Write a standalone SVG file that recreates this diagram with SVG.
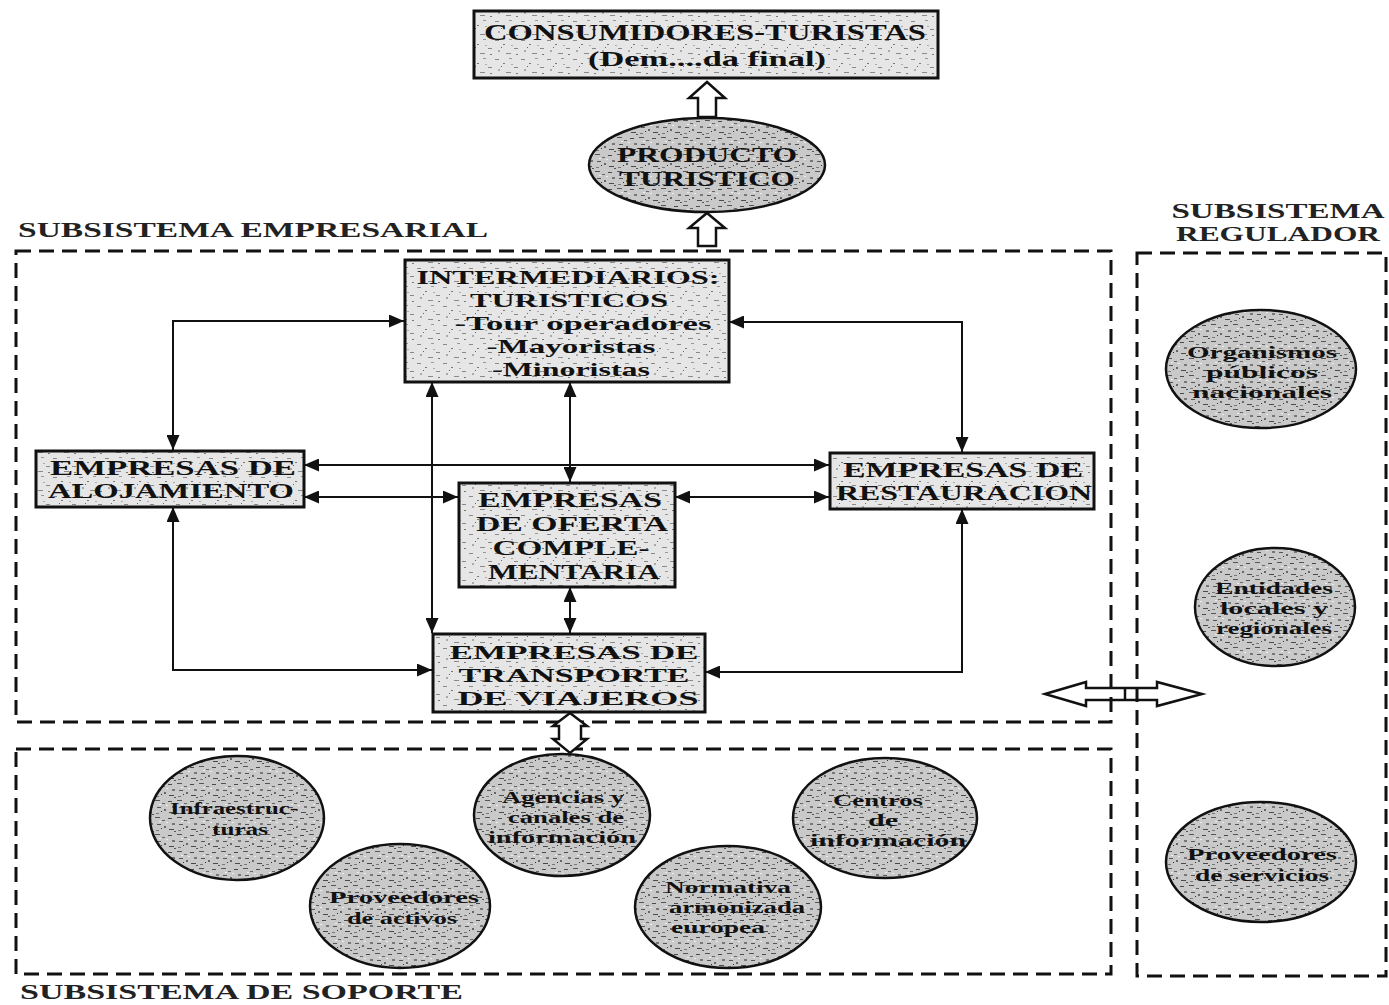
<svg xmlns="http://www.w3.org/2000/svg" width="1389" height="1005" viewBox="0 0 1389 1005">
<style>
  .box{stroke:#111;stroke-width:3;fill:url(#texL)}
  .ell{stroke:#111;stroke-width:2.5;fill:url(#texD)}
  .dash{fill:none;stroke:#111;stroke-width:3;stroke-dasharray:15 8}
  .t{font-family:"Liberation Serif","Times New Roman",serif;font-weight:bold;fill:#111;text-anchor:middle}
  .e{font-size:16px}
  .lbl{font-family:"Liberation Serif","Times New Roman",serif;font-weight:bold;fill:#222}
  .c{fill:none;stroke:#111;stroke-width:2;marker-start:url(#ah);marker-end:url(#ah)}
  .hollow{fill:#fff;stroke:#111;stroke-width:2.5;stroke-linejoin:miter}
</style>
<defs>
  <marker id="ah" markerUnits="userSpaceOnUse" markerWidth="15" markerHeight="13" viewBox="0 0 15 13" refX="15" refY="6.5" orient="auto-start-reverse">
    <path d="M0,0 L15,6.5 L0,13 Z" fill="#111"/>
  </marker>
  <pattern id="texL" width="26" height="19" patternUnits="userSpaceOnUse">
    <rect width="26" height="19" fill="#e6e6e6"/>
    <rect x="1" y="2" width="4" height="1" fill="#8a8a8a"/>
    <rect x="9" y="6" width="2" height="1" fill="#777"/>
    <rect x="15" y="1" width="3" height="1" fill="#999"/>
    <rect x="20" y="10" width="4" height="1" fill="#888"/>
    <rect x="4" y="12" width="2" height="2" fill="#aaa"/>
    <rect x="12" y="15" width="5" height="1" fill="#8a8a8a"/>
    <rect x="22" y="16" width="2" height="1" fill="#777"/>
    <rect x="7" y="9" width="1" height="1" fill="#666"/>
    <rect x="17" y="7" width="2" height="1" fill="#aaa"/>
  </pattern>
  <pattern id="texD" width="22" height="17" patternUnits="userSpaceOnUse">
    <rect width="22" height="17" fill="#c9c9c9"/>
    <rect x="1" y="1" width="5" height="1" fill="#555"/>
    <rect x="8" y="4" width="3" height="1" fill="#666"/>
    <rect x="14" y="2" width="4" height="1" fill="#4a4a4a"/>
    <rect x="18" y="7" width="3" height="2" fill="#777"/>
    <rect x="3" y="8" width="4" height="1" fill="#555"/>
    <rect x="10" y="10" width="2" height="2" fill="#666"/>
    <rect x="15" y="13" width="5" height="1" fill="#4a4a4a"/>
    <rect x="2" y="14" width="3" height="1" fill="#777"/>
    <rect x="7" y="12" width="1" height="1" fill="#333"/>
    <rect x="20" y="15" width="2" height="1" fill="#555"/>
    <rect x="12" y="6" width="2" height="1" fill="#eee"/>
    <rect x="5" y="5" width="2" height="1" fill="#eee"/>
  </pattern>
</defs>
<rect width="1389" height="1005" fill="#fff"/>

<!-- subsystem frames and labels -->
<g id="subsistema-empresarial">
  <rect class="dash" x="16" y="251" width="1095" height="471"/>
  <text class="lbl" x="18" y="237" font-size="22" textLength="470" lengthAdjust="spacingAndGlyphs">SUBSISTEMA EMPRESARIAL</text>
</g>
<g id="subsistema-regulador">
  <rect class="dash" x="1137" y="253" width="249" height="723"/>
  <text class="lbl" x="1278" y="218" font-size="20" text-anchor="middle" textLength="213" lengthAdjust="spacingAndGlyphs">SUBSISTEMA</text>
  <text class="lbl" x="1278" y="241" font-size="20" text-anchor="middle" textLength="204" lengthAdjust="spacingAndGlyphs">REGULADOR</text>
</g>
<g id="subsistema-soporte">
  <rect class="dash" x="16" y="749" width="1095" height="225"/>
  <text class="lbl" x="20" y="999" font-size="22" font-weight="normal" textLength="443" lengthAdjust="spacingAndGlyphs">SUBSISTEMA DE SOPORTE</text>
</g>

<!-- connectors -->
<g id="connectors">
  <path class="c" d="M173,450 L173,321 L404,321"/>
  <path class="c" d="M962,452 L962,322 L729,322"/>
  <path class="c" d="M570,382 L570,482" stroke-width="3"/>
  <path class="c" d="M432,382 L432,633"/>
  <path class="c" d="M570,587 L570,633" stroke-width="3"/>
  <path class="c" d="M304,465 L829,465"/>
  <path class="c" d="M304,497 L458,497"/>
  <path class="c" d="M675,497 L829,497"/>
  <path class="c" d="M173,507 L173,670 L432,670"/>
  <path class="c" d="M962,509 L962,672 L705,672"/>
  <path class="hollow" d="M707,82 L725,98 L716,98 L716,117 L698,117 L698,98 L689,98 Z"/>
  <path class="hollow" d="M707,213 L725,228 L716,228 L716,246 L698,246 L698,228 L689,228 Z"/>
  <path class="hollow" d="M570,713 L587,726 L581,726 L581,739 L587,739 L570,753 L553,739 L559,739 L559,726 L553,726 Z"/>
  <path class="hollow" style="fill:none" d="M1045,694 L1086,682 L1086,688 L1157,688 L1157,682 L1202,694 L1157,706 L1157,700 L1086,700 L1086,706 Z"/>
  <line x1="1125" y1="688" x2="1125" y2="700" stroke="#111" stroke-width="2.5"/>
</g>

<!-- nodes -->
<g id="consumidores">
  <rect class="box" x="474" y="11" width="464" height="67"/>
  <text class="t" x="705" y="40" font-size="23" textLength="442" lengthAdjust="spacingAndGlyphs">CONSUMIDORES-TURISTAS</text>
  <text class="t" x="707" y="66" font-size="21" textLength="238" lengthAdjust="spacingAndGlyphs">(Dem....da final)</text>
</g>
<g id="producto">
  <ellipse class="ell" cx="707" cy="165" rx="118" ry="47"/>
  <text class="t" x="707" y="162" font-size="20" textLength="180" lengthAdjust="spacingAndGlyphs">PRODUCTO</text>
  <text class="t" x="707" y="186" font-size="20" textLength="176" lengthAdjust="spacingAndGlyphs">TURISTICO</text>
</g>
<g id="intermediarios">
  <rect class="box" x="405" y="260" width="324" height="122"/>
  <text class="t" x="568" y="284" font-size="19" textLength="303" lengthAdjust="spacingAndGlyphs">INTERMEDIARIOS:</text>
  <text class="t" x="569" y="307" font-size="19" textLength="198" lengthAdjust="spacingAndGlyphs">TURISTICOS</text>
  <text class="t" x="583" y="330" font-size="19" textLength="257" lengthAdjust="spacingAndGlyphs">-Tour operadores</text>
  <text class="t" x="571" y="353" font-size="19" textLength="169" lengthAdjust="spacingAndGlyphs">-Mayoristas</text>
  <text class="t" x="571" y="376" font-size="19" textLength="158" lengthAdjust="spacingAndGlyphs">-Minoristas</text>
</g>
<g id="alojamiento">
  <rect class="box" x="36" y="451" width="268" height="56"/>
  <text class="t" x="173" y="475" font-size="20" textLength="246" lengthAdjust="spacingAndGlyphs">EMPRESAS DE</text>
  <text class="t" x="171" y="498" font-size="20" textLength="246" lengthAdjust="spacingAndGlyphs">ALOJAMIENTO</text>
</g>
<g id="restauracion">
  <rect class="box" x="830" y="453" width="264" height="56"/>
  <text class="t" x="963" y="477" font-size="20" textLength="240" lengthAdjust="spacingAndGlyphs">EMPRESAS DE</text>
  <text class="t" x="964" y="500" font-size="20" textLength="256" lengthAdjust="spacingAndGlyphs">RESTAURACION</text>
</g>
<g id="oferta-complementaria">
  <rect class="box" x="459" y="483" width="216" height="104"/>
  <text class="t" x="570" y="507" font-size="20" textLength="184" lengthAdjust="spacingAndGlyphs">EMPRESAS</text>
  <text class="t" x="572" y="531" font-size="20" textLength="192" lengthAdjust="spacingAndGlyphs">DE OFERTA</text>
  <text class="t" x="571" y="555" font-size="20" textLength="157" lengthAdjust="spacingAndGlyphs">COMPLE-</text>
  <text class="t" x="574" y="579" font-size="20" textLength="172" lengthAdjust="spacingAndGlyphs">MENTARIA</text>
</g>
<g id="transporte">
  <rect class="box" x="433" y="634" width="272" height="78"/>
  <text class="t" x="574" y="659" font-size="19" textLength="249" lengthAdjust="spacingAndGlyphs">EMPRESAS DE</text>
  <text class="t" x="574" y="682" font-size="19" textLength="231" lengthAdjust="spacingAndGlyphs">TRANSPORTE</text>
  <text class="t" x="578" y="705" font-size="19" textLength="241" lengthAdjust="spacingAndGlyphs">DE VIAJEROS</text>
</g>

<g id="organismos">
  <ellipse class="ell" cx="1261" cy="369" rx="95" ry="59"/>
  <text class="t e" x="1262" y="358" textLength="150" lengthAdjust="spacingAndGlyphs">Organismos</text>
  <text class="t e" x="1262" y="378" textLength="112" lengthAdjust="spacingAndGlyphs">públicos</text>
  <text class="t e" x="1262" y="398" textLength="140" lengthAdjust="spacingAndGlyphs">nacionales</text>
</g>
<g id="entidades">
  <ellipse class="ell" cx="1275" cy="607" rx="80" ry="59"/>
  <text class="t e" x="1274" y="594" textLength="118" lengthAdjust="spacingAndGlyphs">Entidades</text>
  <text class="t e" x="1274" y="614" textLength="108" lengthAdjust="spacingAndGlyphs">locales y</text>
  <text class="t e" x="1274" y="634" textLength="116" lengthAdjust="spacingAndGlyphs">regionales</text>
</g>
<g id="proveedores-servicios">
  <ellipse class="ell" cx="1261" cy="862" rx="95" ry="60"/>
  <text class="t e" x="1262" y="860" textLength="150" lengthAdjust="spacingAndGlyphs">Proveedores</text>
  <text class="t e" x="1262" y="881" textLength="134" lengthAdjust="spacingAndGlyphs">de servicios</text>
</g>

<g id="infraestructuras">
  <ellipse class="ell" cx="237" cy="818" rx="87" ry="62"/>
  <text class="t e" x="234" y="814" textLength="128" lengthAdjust="spacingAndGlyphs">Infraestruc-</text>
  <text class="t e" x="240" y="835" textLength="56" lengthAdjust="spacingAndGlyphs">turas</text>
</g>
<g id="proveedores-activos">
  <ellipse class="ell" cx="400" cy="906" rx="90" ry="62"/>
  <text class="t e" x="404" y="903" textLength="150" lengthAdjust="spacingAndGlyphs">Proveedores</text>
  <text class="t e" x="402" y="924" textLength="110" lengthAdjust="spacingAndGlyphs">de activos</text>
</g>
<g id="agencias">
  <ellipse class="ell" cx="562" cy="815" rx="88" ry="61"/>
  <text class="t e" x="563" y="803" textLength="122" lengthAdjust="spacingAndGlyphs">Agencias y</text>
  <text class="t e" x="566" y="823" textLength="116" lengthAdjust="spacingAndGlyphs">canales de</text>
  <text class="t e" x="562" y="843" textLength="148" lengthAdjust="spacingAndGlyphs">información</text>
</g>
<g id="normativa">
  <ellipse class="ell" cx="728" cy="907" rx="93" ry="61"/>
  <text class="t e" x="728" y="893" textLength="126" lengthAdjust="spacingAndGlyphs">Normativa</text>
  <text class="t e" x="737" y="913" textLength="136" lengthAdjust="spacingAndGlyphs">armonizada</text>
  <text class="t e" x="718" y="933" textLength="94" lengthAdjust="spacingAndGlyphs">europea</text>
</g>
<g id="centros">
  <ellipse class="ell" cx="885" cy="818" rx="92" ry="60"/>
  <text class="t e" x="878" y="806" textLength="90" lengthAdjust="spacingAndGlyphs">Centros</text>
  <text class="t e" x="883" y="826" textLength="30" lengthAdjust="spacingAndGlyphs">de</text>
  <text class="t e" x="888" y="846" textLength="156" lengthAdjust="spacingAndGlyphs">información</text>
</g>
</svg>
